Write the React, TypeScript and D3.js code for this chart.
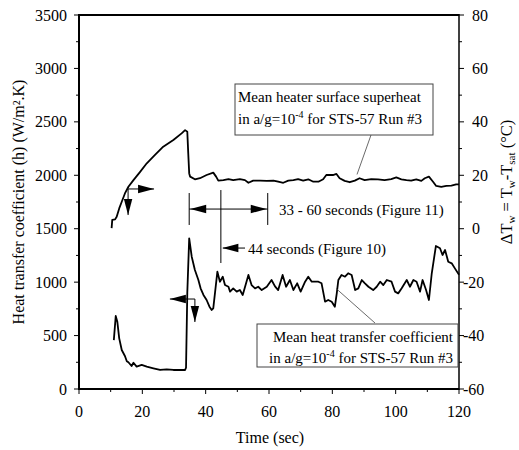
import React from 'react';
import * as d3 from 'd3';

// Mean heat transfer coefficient h (W/m2.K), left axis
const timeH = [11.0, 11.6, 12.1, 12.7, 13.5, 14.5, 15.1, 15.6, 16.6, 17.2, 18.2, 19.8, 21.4, 23.5, 25.6, 27.7, 29.8, 31.9, 33.5, 33.8, 34.2, 34.8, 35.6, 36.6, 37.7, 38.4, 39.3, 40.3, 41.2, 41.9, 42.4, 43.7, 44.5, 45.4, 46.1, 47.2, 47.7, 48.7, 49.8, 50.8, 51.7, 53.5, 54.5, 55.6, 56.6, 57.7, 59.3, 60.8, 61.9, 62.9, 64.3, 65.4, 66.6, 67.7, 68.9, 70.0, 71.4, 72.4, 73.5, 75.6, 76.6, 77.7, 78.7, 79.8, 80.8, 81.4, 81.9, 82.9, 84.0, 85.0, 86.1, 87.2, 88.2, 89.3, 90.3, 91.4, 92.9, 94.0, 95.1, 96.1, 97.2, 98.7, 99.8, 100.8, 101.9, 103.5, 104.5, 105.6, 106.6, 107.7, 108.5, 109.6, 110.5, 111.4, 112.7, 114.0, 114.8, 115.6, 116.6, 117.7, 118.7, 120];
const hValues = [458, 683, 630, 474, 365, 309, 260, 250, 215, 246, 209, 225, 209, 193, 178, 184, 178, 178, 178, 200, 900, 1410, 1238, 1113, 1020, 942, 880, 833, 770, 740, 755, 1098, 1004, 1051, 973, 957, 911, 942, 911, 926, 880, 1067, 973, 942, 957, 926, 957, 1020, 960, 926, 1067, 957, 1020, 926, 989, 911, 1004, 1051, 1004, 1004, 989, 817, 833, 817, 770, 895, 1020, 1067, 1051, 1083, 1067, 926, 942, 1020, 989, 957, 926, 957, 1004, 973, 1020, 1004, 911, 895, 942, 1020, 957, 1020, 1004, 911, 1020, 926, 833, 1083, 1338, 1317, 1254, 1301, 1191, 1176, 1129, 1070];

// Mean heater surface superheat dT (C), right axis
const timeT = [10.3, 10.5, 11.4, 11.9, 12.7, 13.5, 14.5, 15.6, 17.2, 19.3, 21.4, 24.0, 26.6, 29.8, 32.4, 33.5, 34.2, 34.5, 34.8, 35.1, 36.6, 38.2, 40.3, 42.4, 43.3, 44.0, 45.6, 47.2, 48.7, 50.8, 52.4, 53.5, 55.0, 57.2, 59.3, 61.4, 62.9, 64.5, 66.1, 67.7, 69.2, 70.8, 72.4, 74.0, 75.6, 77.1, 78.1, 80.2, 81.3, 82.3, 83.9, 85.5, 87.1, 88.6, 90.2, 92.3, 94.4, 96.5, 98.6, 100.2, 101.8, 103.4, 104.9, 106.5, 108.1, 109.2, 110.5, 111.8, 112.8, 114.4, 116.0, 117.6, 119.1, 120];
const dtValues = [0.2, 3.3, 3.5, 4.5, 7.6, 10.1, 13.2, 15.7, 18.2, 21.3, 24.5, 27.6, 30.7, 33.2, 35.7, 36.9, 36.3, 28.2, 20.7, 19.5, 18.5, 18.9, 20.1, 21.0, 19.5, 18.0, 18.2, 18.6, 18.2, 18.6, 18.2, 17.2, 18.0, 18.0, 17.9, 18.0, 17.6, 17.2, 18.0, 18.2, 18.6, 18.0, 18.5, 17.6, 17.6, 18.5, 20.1, 20.1, 20.5, 18.9, 17.9, 17.4, 18.0, 18.9, 18.2, 18.6, 18.5, 18.2, 18.6, 19.2, 18.5, 18.2, 18.0, 18.5, 17.9, 18.9, 19.5, 17.6, 16.0, 15.7, 16.0, 16.1, 16.6, 16.6];

const xTicks = [0, 20, 40, 60, 80, 100, 120];
const xMinor = [10, 30, 50, 70, 90, 110];
const hTicks = [0, 500, 1000, 1500, 2000, 2500, 3000, 3500];
const hMinor = [250, 750, 1250, 1750, 2250, 2750, 3250];
const dtTicks = [-60, -40, -20, 0, 20, 40, 60, 80];
const dtMinor = [-50, -30, -10, 10, 30, 50, 70];

const FONT = "'Liberation Serif', 'Times New Roman', serif";

function arrowHead(tx: number, ty: number, dir: 'left' | 'right' | 'down' | 'up', len = 16, hw = 4.2) {
  let pts: number[][] = [];
  if (dir === 'left') pts = [[tx, ty], [tx + len, ty - hw], [tx + len, ty + hw]];
  if (dir === 'right') pts = [[tx, ty], [tx - len, ty - hw], [tx - len, ty + hw]];
  if (dir === 'down') pts = [[tx, ty], [tx - hw, ty - len], [tx + hw, ty - len]];
  if (dir === 'up') pts = [[tx, ty], [tx - hw, ty + len], [tx + hw, ty + len]];
  return <polygon points={pts.map(p => p.join(',')).join(' ')} fill="#000" />;
}

export default function App() {
  const x = d3.scaleLinear().domain([0, 120]).range([79, 459]);
  const yH = d3.scaleLinear().domain([0, 3500]).range([389, 15]);
  const yT = d3.scaleLinear().domain([-60, 80]).range([389, 15]);

  const hPath = d3.line<number>().x((_, i) => x(timeH[i])).y(d => yH(d))(hValues) || '';
  const tPath = d3.line<number>().x((_, i) => x(timeT[i])).y(d => yT(d))(dtValues) || '';

  const L = x(0), R = x(120), T = yH(3500), B = yH(0);

  // annotation anchors (data coordinates)
  const bx1 = x(34.8), bx2 = x(59.6), bx3 = x(44.8);
  const by = yH(1684);

  // small axis-indicator arrows
  const ux = x(15.5), uy = yH(1872);
  const lx = x(36.6), ly = yH(842);

  return (
    <svg width={519} height={450} style={{ position: 'absolute', left: 0, top: 0, background: '#fff' }} fontFamily={FONT}>
      <rect x={0} y={0} width={519} height={450} fill="#fff" />

      {/* curves */}
      <path d={tPath} fill="none" stroke="#000" strokeWidth={1.8} strokeLinejoin="round" />
      <path d={hPath} fill="none" stroke="#000" strokeWidth={1.8} strokeLinejoin="round" />

      {/* frame */}
      <line x1={L} y1={T} x2={R} y2={T} stroke="#000" strokeWidth={2} />
      <line x1={L} y1={B} x2={R} y2={B} stroke="#000" strokeWidth={2} />
      <line x1={L} y1={T - 1} x2={L} y2={B + 1} stroke="#000" strokeWidth={2} />
      <line x1={R} y1={T - 1} x2={R} y2={B + 1} stroke="#000" strokeWidth={1.5} />

      {/* left axis ticks */}
      {hTicks.map(v => (
        <g key={'h' + v}>
          <line x1={L - 5} x2={L} y1={yH(v)} y2={yH(v)} stroke="#000" strokeWidth={1} />
          <text x={L - 12} y={yH(v)} dy="0.35em" textAnchor="end" fontSize={16}>{v}</text>
        </g>
      ))}
      {hMinor.map(v => <line key={'hm' + v} x1={L - 3} x2={L} y1={yH(v)} y2={yH(v)} stroke="#000" strokeWidth={1} />)}

      {/* bottom axis ticks */}
      {xTicks.map(v => (
        <g key={'x' + v}>
          <line x1={x(v)} x2={x(v)} y1={B} y2={B + 5} stroke="#000" strokeWidth={1} />
          <text x={x(v)} y={417} textAnchor="middle" fontSize={16}>{v}</text>
        </g>
      ))}
      {xMinor.map(v => <line key={'xm' + v} x1={x(v)} x2={x(v)} y1={B} y2={B + 3} stroke="#000" strokeWidth={1} />)}

      {/* right axis ticks */}
      {dtTicks.map(v => (
        <g key={'t' + v}>
          <line x1={R} x2={R + 5} y1={yT(v)} y2={yT(v)} stroke="#000" strokeWidth={1} />
          <text x={v < 0 ? 463 : 472} y={yT(v)} dy="0.35em" textAnchor="start" fontSize={16}>{v}</text>
        </g>
      ))}
      {dtMinor.map(v => <line key={'tm' + v} x1={R} x2={R + 3} y1={yT(v)} y2={yT(v)} stroke="#000" strokeWidth={1} />)}

      {/* axis titles */}
      <text x={270} y={443} textAnchor="middle" fontSize={16}>Time (sec)</text>
      <text transform="translate(24,202) rotate(-90)" textAnchor="middle" fontSize={16}>
        Heat transfer coefficient (h) (W/m²<tspan>.K)</tspan>
      </text>
      <text transform="translate(512,182) rotate(-90)" textAnchor="middle" fontSize={16.5}>
        ΔT<tspan fontSize={11} dy={3}>w</tspan><tspan dy={-3}> = T</tspan><tspan fontSize={11} dy={3}>w</tspan><tspan dy={-3}>-T</tspan><tspan fontSize={11} dy={3}>sat</tspan><tspan dy={-3}> (°C)</tspan>
      </text>

      {/* upper annotation box */}
      <rect x={235} y={84} width={198} height={51} fill="#fff" stroke="#444" strokeWidth={1} />
      <text x={238} y={102} fontSize={15}>Mean heater surface superheat</text>
      <text x={238} y={124} fontSize={15}>in a/g=10<tspan fontSize={10} dy={-6}>-4</tspan><tspan dy={6}> for STS-57 Run #3</tspan></text>
      <line x1={371} y1={135} x2={357} y2={yT(20.3)} stroke="#444" strokeWidth={0.8} />

      {/* lower annotation box */}
      <rect x={257} y={324} width={201} height={43} fill="#fff" stroke="#444" strokeWidth={1} />
      <text x={453} y={342} textAnchor="end" fontSize={15}>Mean heat transfer coefficient</text>
      <text x={453} y={363} textAnchor="end" fontSize={15}>in a/g=10<tspan fontSize={10} dy={-6}>-4</tspan><tspan dy={6}> for STS-57 Run #3</tspan></text>
      <line x1={375} y1={323} x2={x(81.2)} y2={yH(940)} stroke="#444" strokeWidth={0.8} />

      {/* 33-60 s bracket */}
      <line x1={bx1} x2={bx1} y1={yH(1834)} y2={yH(1535)} stroke="#000" strokeWidth={1} />
      <line x1={bx2} x2={bx2} y1={yH(1834)} y2={yH(1535)} stroke="#000" strokeWidth={1} />
      <line x1={bx1} x2={bx2} y1={by} y2={by} stroke="#000" strokeWidth={1} />
      {arrowHead(bx1 + 1, by, 'left')}
      {arrowHead(bx2 - 1, by, 'right')}
      <text x={279} y={215} fontSize={15}>33 - 60 seconds (Figure 11)</text>

      {/* 44 s marker */}
      <line x1={bx3} x2={bx3} y1={yH(1862)} y2={yH(1179)} stroke="#000" strokeWidth={1} />
      <line x1={bx3 + 2} x2={245} y1={yH(1319)} y2={yH(1319)} stroke="#000" strokeWidth={1} />
      {arrowHead(bx3 + 1.5, yH(1319), 'left')}
      <text x={248} y={254} fontSize={15}>44 seconds (Figure 10)</text>

      {/* upper curve axis indicator (points right) */}
      <line x1={ux} x2={x(23.7)} y1={uy} y2={uy} stroke="#000" strokeWidth={1} />
      {arrowHead(x(23.7), uy, 'right')}
      <line x1={ux} x2={ux} y1={uy} y2={yH(1628)} stroke="#000" strokeWidth={1} />
      {arrowHead(ux, yH(1628), 'down')}

      {/* lower curve axis indicator (points left) */}
      <line x1={x(28.7)} x2={lx} y1={ly} y2={ly} stroke="#000" strokeWidth={1} />
      {arrowHead(x(28.7), ly, 'left')}
      <line x1={lx} x2={lx} y1={ly} y2={yH(627)} stroke="#000" strokeWidth={1} />
      {arrowHead(lx, yH(627), 'down')}
    </svg>
  );
}
